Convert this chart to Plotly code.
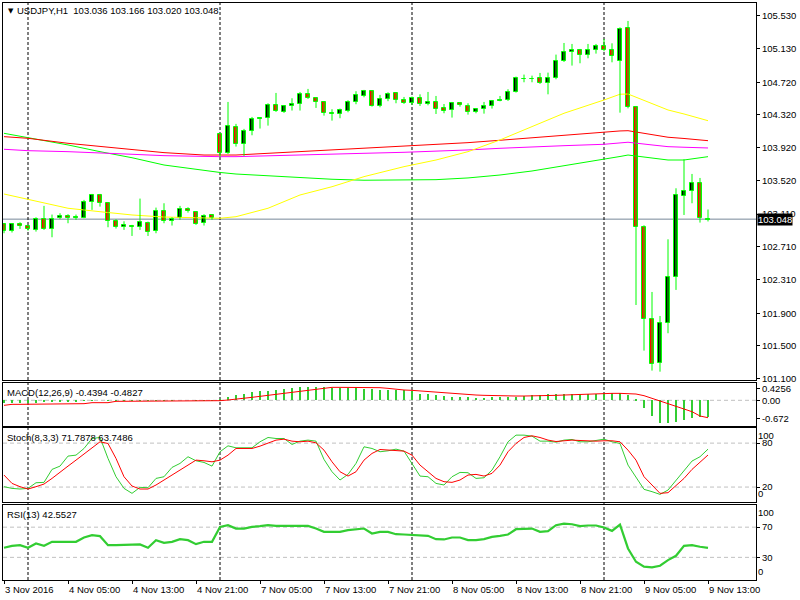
import plotly.graph_objects as go
from plotly.subplots import make_subplots

# ---------------- data ----------------
OPEN = [102.986,102.908,102.994,102.961,102.917,103.055,102.933,103.063,103.083,103.067,
        103.063,103.254,103.340,103.242,103.022,102.953,102.961,102.949,103.002,102.900,
        103.152,103.022,103.063,103.177,103.140,102.998,103.095,104.085,103.853,104.170,
        103.962,104.129,104.268,104.280,104.439,104.353,104.426,104.451,104.573,104.524,
        104.475,104.341,104.329,104.365,104.475,104.549,104.610,104.426,104.512,104.585,
        104.500,104.463,104.524,104.450,104.475,104.401,104.377,104.463,104.426,104.357,
        104.394,104.426,104.491,104.507,104.605,104.760,104.760,104.768,104.707,104.768,
        104.975,105.085,105.110,105.049,105.110,105.159,105.110,104.975,105.378,104.413,
        102.949,101.834,101.288,101.777,102.338,103.327,103.388,103.486,103.036]
HIGH = [103.000,102.998,103.010,102.978,103.071,103.210,103.104,103.120,103.108,103.104,
        103.283,103.356,103.356,103.250,103.047,103.022,102.978,103.299,103.018,103.189,
        103.242,103.071,103.210,103.193,103.140,103.108,103.108,104.097,104.479,104.211,
        104.150,104.296,104.284,104.463,104.589,104.439,104.524,104.601,104.638,104.536,
        104.488,104.390,104.398,104.500,104.610,104.626,104.618,104.565,104.597,104.597,
        104.540,104.544,104.572,104.601,104.552,104.454,104.479,104.479,104.463,104.398,
        104.479,104.503,104.552,104.634,104.788,104.813,104.800,104.833,104.837,105.057,
        105.199,105.187,105.126,105.187,105.187,105.248,105.195,105.390,105.468,104.430,
        102.973,102.159,101.866,102.802,103.425,103.779,103.600,103.551,103.166]
LOW = [102.876,102.885,102.929,102.908,102.896,102.917,102.827,103.047,102.998,103.039,
       103.059,103.161,103.201,102.949,102.933,102.917,102.843,102.917,102.843,102.876,
       102.998,102.970,103.039,103.128,102.978,102.970,103.039,103.808,103.844,103.934,
       103.820,104.072,104.154,104.190,104.357,104.345,104.374,104.374,104.516,104.406,
       104.312,104.251,104.280,104.353,104.451,104.536,104.422,104.414,104.488,104.463,
       104.455,104.442,104.430,104.438,104.332,104.341,104.288,104.422,104.324,104.341,
       104.336,104.398,104.487,104.491,104.593,104.719,104.719,104.699,104.572,104.756,
       104.967,104.923,104.951,105.012,105.069,105.098,104.963,104.348,104.401,102.000,
       101.443,101.199,101.186,101.655,102.184,103.099,103.242,103.006,103.020]
CLOSE = [102.908,102.986,102.965,102.929,103.055,102.933,103.047,103.087,103.063,103.071,
         103.258,103.340,103.242,103.022,102.949,102.973,102.953,103.010,102.888,103.152,
         103.022,103.055,103.177,103.144,102.986,103.091,103.067,103.853,104.182,103.962,
         104.121,104.268,104.280,104.439,104.365,104.426,104.451,104.573,104.524,104.475,
         104.341,104.333,104.378,104.475,104.561,104.610,104.426,104.512,104.581,104.500,
         104.463,104.524,104.454,104.475,104.397,104.365,104.463,104.438,104.353,104.389,
         104.426,104.487,104.503,104.597,104.768,104.764,104.764,104.707,104.768,104.975,
         105.085,105.110,105.049,105.110,105.159,105.110,105.036,105.366,104.413,102.949,
         101.825,101.280,101.785,102.338,103.339,103.388,103.486,103.059,103.048]

MA_IDX = [0,3,8,12,16,20,25,27,29,33,37,41,45,50,54,58,62,66,70,75,77,78,81,83,85,88]
MA_YELLOW = [103.355,103.291,103.181,103.139,103.099,103.074,103.059,103.059,103.078,103.181,
             103.343,103.444,103.567,103.689,103.770,103.872,104.015,104.177,104.341,104.503,
             104.573,104.576,104.463,104.381,104.332,104.250]
MA_RED = [104.055,104.035,103.974,103.933,103.893,103.860,103.831,103.831,103.831,103.852,
          103.872,103.893,103.913,103.945,103.966,103.982,104.011,104.043,104.076,104.109,
          104.125,104.128,104.076,104.048,104.033,104.006]
MA_MAGENTA = [103.901,103.884,103.872,103.852,103.840,103.823,103.811,103.811,103.811,103.823,
              103.831,103.840,103.852,103.864,103.877,103.893,103.913,103.933,103.945,103.962,
              103.978,103.987,103.954,103.933,103.926,103.917]
MA_GREEN = [104.096,104.043,103.954,103.872,103.798,103.709,103.640,103.618,103.599,103.575,
            103.554,103.535,103.523,103.523,103.530,103.551,103.587,103.636,103.697,103.779,
            103.813,103.831,103.798,103.770,103.770,103.811]

MACD_HIST = [-0.10,-0.10,-0.10,-0.09,-0.09,-0.08,-0.08,-0.07,-0.07,-0.06,
             -0.02,-0.01,0.0,-0.01,-0.02,-0.02,-0.02,-0.02,-0.02,-0.01,
             -0.01,-0.01,0.0,0.0,-0.01,-0.01,-0.01,0.05,0.13,0.18,
             0.24,0.29,0.33,0.34,0.38,0.42,0.44,0.48,0.48,0.48,
             0.48,0.47,0.46,0.44,0.44,0.43,0.41,0.39,0.38,0.38,
             0.38,0.357,0.234,0.234,0.196,0.16,0.135,0.135,0.11,0.098,
             0.098,0.11,0.11,0.11,0.135,0.16,0.196,0.21,0.22,0.234,
             0.234,0.234,0.234,0.234,0.246,0.258,0.258,0.258,0.21,0.02,
             -0.297,-0.58,-0.828,-0.853,-0.816,-0.73,-0.67,-0.63,-0.606]
MACD_SIGNAL = [-0.186,-0.149,-0.149,-0.149,-0.149,-0.149,-0.149,-0.125,-0.125,-0.125,
               -0.125,-0.088,-0.088,-0.088,-0.038,-0.038,-0.038,-0.038,-0.038,-0.038,
               -0.038,-0.038,-0.038,-0.038,-0.038,-0.038,-0.038,-0.014,0.011,0.036,
               0.073,0.11,0.147,0.184,0.221,0.258,0.307,0.357,0.394,0.431,
               0.468,0.48,0.48,0.48,0.48,0.48,0.48,0.468,0.443,0.406,
               0.382,0.369,0.344,0.32,0.295,0.27,0.246,0.221,0.209,0.196,
               0.184,0.172,0.172,0.159,0.159,0.159,0.159,0.172,0.172,0.184,
               0.196,0.209,0.221,0.233,0.233,0.246,0.258,0.258,0.258,0.233,
               0.172,0.073,-0.05,-0.137,-0.236,-0.322,-0.421,-0.582,-0.644]

STOCH_K = [20.5,18.2,17.3,18.2,25.9,26.4,44.1,48.6,62.3,63.6,
           72.7,86.3,87.7,59.1,34.1,18.2,11.4,19.6,19.1,31.8,
           34.1,46.8,52.3,61.4,55.9,53.6,48.6,68.2,76.3,73.6,
           73.6,73.6,81.8,87.7,86.3,86.3,78.2,82.7,84.1,82.7,
           57.7,40.9,29.6,37.3,52.3,75.0,72.7,68.2,69.5,71.8,
           69.1,52.3,35.0,34.1,25.0,22.8,34.1,40.0,39.6,31.8,
           32.7,43.2,61.4,81.8,90.9,90.9,89.5,82.7,82.7,81.3,
           84.1,85.0,81.8,81.8,84.1,85.4,81.8,79.5,50.0,34.1,
           16.9,13.7,10.0,15.9,29.6,43.2,55.5,61.4,71.79]
STOCH_D = [36.4,25.0,20.5,17.3,20.5,24.1,31.8,39.6,48.6,56.8,
           65.0,72.7,81.8,79.5,59.1,34.1,21.4,17.3,17.3,22.8,
           29.6,36.4,43.2,50.0,56.8,55.9,54.5,56.8,63.6,72.7,
           72.7,72.7,75.9,80.4,84.1,85.4,82.7,81.8,82.7,80.4,
           70.4,54.5,40.9,35.0,40.9,56.8,65.9,71.3,70.4,70.4,
           69.1,63.6,50.0,40.9,31.8,27.3,26.4,29.6,36.4,37.3,
           35.0,38.7,50.0,68.2,79.5,87.7,90.0,87.7,84.1,82.2,
           83.2,84.1,83.6,82.7,82.7,83.2,83.2,81.8,70.4,56.8,
           34.1,22.8,11.4,12.3,21.4,31.8,44.1,54.0,63.75]
RSI = [42.7,45.3,46.2,42.7,48.4,45.3,50.6,50.6,50.6,50.6,
       56.3,59.4,58.1,46.2,46.2,46.2,46.2,47.1,42.7,52.8,
       49.3,50.6,54.1,52.8,47.5,50.6,50.6,70.4,72.6,68.2,
       68.2,70.4,71.3,72.6,71.7,71.7,71.7,72.6,71.7,68.2,
       63.8,63.8,63.8,66.0,67.3,68.2,61.6,63.8,63.8,60.7,
       60.3,59.4,58.5,58.5,54.1,53.7,56.3,56.3,52.8,52.8,
       54.1,57.2,58.5,60.3,67.3,68.2,68.2,63.8,64.7,72.6,
       74.8,73.9,71.3,72.2,72.2,69.5,65.1,73.5,41.8,24.2,
       17.6,16.7,18.9,26.4,32.1,45.3,46.2,44.0,42.55]

TICK_IDX = [0, 8, 16, 24, 32, 40, 48, 56, 64, 72, 80, 88]
TICK_LABELS = ["3 Nov 2016", "4 Nov 05:00", "4 Nov 13:00", "4 Nov 21:00", "7 Nov 05:00",
               "7 Nov 13:00", "7 Nov 21:00", "8 Nov 05:00", "8 Nov 13:00", "8 Nov 21:00",
               "9 Nov 05:00", "9 Nov 13:00"]
DAY_SEPARATORS = [3, 27, 51, 75]

PRICE_TICKS = [105.530, 105.130, 104.720, 104.320, 103.920, 103.520, 103.110,
               102.710, 102.310, 101.900, 101.500, 101.100]
LAST_PRICE = 103.048
MACD_TICKS = [0.4256, 0.0, -0.672]
MACD_TICK_TEXT = ["0.4256", "0.00", "-0.672"]

SYMBOL_TITLE = "USDJPY,H1  103.036 103.166 103.020 103.048"
MACD_TITLE = "MACD(12,26,9) -0.4394 -0.4827"
STOCH_TITLE = "Stoch(8,3,3) 71.7878 63.7486"
RSI_TITLE = "RSI(13) 42.5527"

# ---------------- figure ----------------
FONT = "Liberation Sans"
FS = 9.5
N = len(CLOSE)
IDX = list(range(N))

fig = make_subplots(rows=4, cols=1, shared_xaxes=True, vertical_spacing=0.0)

# moving averages (under candles)
for vals, col in [(MA_GREEN, "#00FF00"), (MA_MAGENTA, "#FF00FF"),
                  (MA_RED, "#FF0000"), (MA_YELLOW, "#FFFF00")]:
    fig.add_trace(go.Scatter(x=MA_IDX, y=vals, mode="lines",
                             line=dict(color=col, width=1)), row=1, col=1)

# wicks
wx, wy = [], []
for i in IDX:
    wx += [i, i, None]
    wy += [LOW[i], HIGH[i], None]
fig.add_trace(go.Scatter(x=wx, y=wy, mode="lines",
                         line=dict(color="#00FF00", width=1)), row=1, col=1)

# bodies
base = [min(o, c) for o, c in zip(OPEN, CLOSE)]
height = [max(abs(c - o), 0.004) for o, c in zip(OPEN, CLOSE)]
fill = ["#000000" if c >= o else "#FF0000" for o, c in zip(OPEN, CLOSE)]
fig.add_trace(go.Bar(x=IDX, y=height, base=base, width=0.6,
                     marker=dict(color=fill, line=dict(color="#00FF00", width=1))),
              row=1, col=1)

# MACD
fig.add_trace(go.Bar(x=IDX, y=MACD_HIST, width=0.16,
                     marker=dict(color="#32CD32", line=dict(width=0))), row=2, col=1)
fig.add_trace(go.Scatter(x=IDX, y=MACD_SIGNAL, mode="lines",
                         line=dict(color="#FF0000", width=1)), row=2, col=1)

# Stochastic
fig.add_trace(go.Scatter(x=IDX, y=STOCH_K, mode="lines",
                         line=dict(color="#32CD32", width=1)), row=3, col=1)
fig.add_trace(go.Scatter(x=IDX, y=STOCH_D, mode="lines",
                         line=dict(color="#FF0000", width=1)), row=3, col=1)

# RSI
fig.add_trace(go.Scatter(x=IDX, y=RSI, mode="lines",
                         line=dict(color="#32CD32", width=2.2)), row=4, col=1)

# ---------------- axes ----------------
XR = [-0.125, 94.0]
for r in range(1, 5):
    fig.update_xaxes(range=XR, showgrid=False, zeroline=False, showline=True, mirror=True,
                     linecolor="black", linewidth=1, showticklabels=False, ticks="",
                     row=r, col=1)
fig.update_xaxes(ticks="outside", ticklen=3, tickcolor="black", tickvals=TICK_IDX,
                 row=4, col=1)

yax = dict(side="right", showgrid=False, zeroline=False, showline=True, mirror=True,
           linecolor="black", linewidth=1, ticks="outside", ticklen=3, tickcolor="black",
           tickfont=dict(family=FONT, size=FS, color="black"))
fig.update_yaxes(**yax, range=[101.084, 105.687], tickvals=PRICE_TICKS,
                 ticktext=[f"{v:.3f}" for v in PRICE_TICKS], domain=[0.3466, 1.0], row=1, col=1)
fig.update_yaxes(**yax, range=[-0.952, 0.641], tickvals=MACD_TICKS, ticktext=MACD_TICK_TEXT,
                 domain=[0.2669, 0.3414], row=2, col=1)
fig.update_yaxes(**yax, range=[0, 100], tickvals=[80, 20], ticktext=["80", "20"],
                 domain=[0.1357, 0.2626], row=3, col=1)
fig.update_yaxes(**yax, range=[0, 100], tickvals=[70, 30], ticktext=["70", "30"],
                 domain=[0.0, 0.1308], row=4, col=1)

# ---------------- shapes ----------------
shapes = []
shapes.append(dict(type="line", xref="paper", x0=0, x1=1, yref="y", y0=LAST_PRICE, y1=LAST_PRICE,
                   line=dict(color="#778899", width=1), layer="below"))
shapes.append(dict(type="line", xref="paper", x0=0, x1=1, yref="y2", y0=0, y1=0,
                   line=dict(color="#C0C0C0", width=1, dash="4px,3px"), layer="below"))
for lv in (80, 20):
    shapes.append(dict(type="line", xref="paper", x0=0, x1=1, yref="y3", y0=lv, y1=lv,
                       line=dict(color="#C0C0C0", width=1, dash="4px,3px"), layer="below"))
for lv in (70, 30):
    shapes.append(dict(type="line", xref="paper", x0=0, x1=1, yref="y4", y0=lv, y1=lv,
                       line=dict(color="#C0C0C0", width=1, dash="4px,3px"), layer="below"))
for s in DAY_SEPARATORS:
    shapes.append(dict(type="line", xref="x", x0=s, x1=s, yref="paper", y0=0, y1=1,
                       line=dict(color="black", width=1, dash="3px,2px"), layer="below"))

# ---------------- annotations ----------------
ann = []
tfont = dict(family=FONT, size=FS, color="black")
ann.append(dict(xref="paper", yref="paper", x=0, y=1, xanchor="left", yanchor="top",
                text="▼", font=dict(family="DejaVu Sans", size=7, color="black"),
                showarrow=False, xshift=3, yshift=-2))
ann.append(dict(xref="paper", yref="paper", x=0, y=1, xanchor="left", yanchor="top",
                text=SYMBOL_TITLE, font=tfont, showarrow=False, xshift=12, yshift=0))
ann.append(dict(xref="paper", yref="y2 domain", x=0, y=1, xanchor="left", yanchor="top",
                text=MACD_TITLE, font=tfont, showarrow=False, xshift=2, yshift=-2))
ann.append(dict(xref="paper", yref="y3 domain", x=0, y=1, xanchor="left", yanchor="top",
                text=STOCH_TITLE, font=tfont, showarrow=False, xshift=2, yshift=-2))
ann.append(dict(xref="paper", yref="y4 domain", x=0, y=1, xanchor="left", yanchor="top",
                text=RSI_TITLE, font=tfont, showarrow=False, xshift=2, yshift=-2))
# edge labels of bounded oscillators
for yr in ("y3", "y4"):
    ann.append(dict(xref="paper", yref=yr, x=1, y=100, xanchor="left", yanchor="top",
                    text="100", font=tfont, showarrow=False, xshift=0, yshift=0))
    ann.append(dict(xref="paper", yref=yr, x=1, y=0, xanchor="left", yanchor="bottom",
                    text="0", font=tfont, showarrow=False, xshift=0, yshift=1))
# last price box
ann.append(dict(xref="paper", yref="y", x=1, y=LAST_PRICE, xanchor="left", yanchor="middle",
                text=f"{LAST_PRICE:.3f}", font=dict(family=FONT, size=FS, color="white"),
                bgcolor="black", borderpad=0, showarrow=False, xshift=1))
# time labels (left-aligned at their bar)
for i, lab in zip(TICK_IDX, TICK_LABELS):
    ann.append(dict(xref="x4", yref="paper", x=i, y=0, xanchor="left", yanchor="top",
                    text=lab, font=tfont, showarrow=False, xshift=-1, yshift=-2))

fig.update_layout(
    width=800, height=600, autosize=False,
    margin=dict(l=3, r=44, t=3, b=20, pad=0),
    paper_bgcolor="white", plot_bgcolor="white",
    showlegend=False, barmode="overlay", bargap=0,
    font=dict(family=FONT, size=FS, color="black"),
    shapes=shapes, annotations=ann, hovermode=False,
)

fig.write_html("out.html", config={"displayModeBar": False},
               post_script="document.body.style.margin='0';document.body.style.overflow='hidden';")
